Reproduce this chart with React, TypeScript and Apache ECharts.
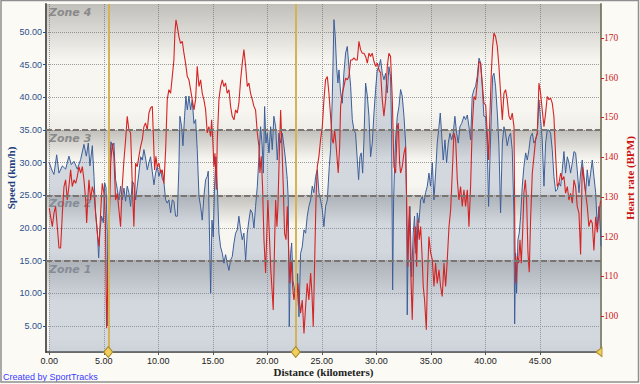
import { useEffect, useRef } from "react";
import * as echarts from "echarts";

// ---- axis ticks ----
const X_TICKS = [0, 5, 10, 15, 20, 25, 30, 35, 40, 45];
const SPEED_TICKS = [5, 10, 15, 20, 25, 30, 35, 40, 45, 50];
const HR_TICKS = [100, 110, 120, 130, 140, 150, 160, 170];

const X_RANGE = [-0.3, 50.6];
const SPEED_RANGE = [1.0, 54.3];
const HR_RANGE = [90.9, 178.6];

// ---- zones (speed, km/h) ----
const ZONE_NAMES = ["Zone 1", "Zone 2", "Zone 3", "Zone 4"];
const ZONE_BOUNDS = [1.0, 15, 25, 35, 54.3];

// ---- laps (km) ----
const LAPS = [5.41, 22.6];
const TRACK_END = 50.6;

// ---- speed (km, km/h) ----
const SPEED: [number, number][] = [
  [0.0, 30.0], [0.28, 28.7], [0.43, 28.2], [0.68, 31.2], [0.89, 28.4], [1.2, 29.5], [1.5, 29.0], [1.8, 31.0],
  [2.02, 29.7], [2.27, 30.2], [2.57, 29.0], [2.88, 30.5], [3.18, 32.8], [3.4, 31.0], [3.58, 33.0], [3.73, 29.5],
  [3.95, 32.6], [4.1, 27.9], [4.25, 22.3], [4.4, 19.7], [4.53, 15.4], [4.65, 19.7], [4.8, 21.8], [4.96, 20.8],
  [5.08, 26.9], [5.2, 26.2], [5.32, 19.2], [5.38, 5.0], [5.45, 12.0], [5.55, 30.0], [5.65, 33.2], [5.8, 32.5],
  [5.93, 33.0], [6.08, 27.4], [6.24, 25.9], [6.39, 24.3], [6.54, 26.4], [6.69, 24.3], [6.85, 26.1], [7.0, 24.1],
  [7.15, 26.4], [7.3, 25.4], [7.46, 23.3], [7.61, 27.2], [7.76, 26.7], [7.92, 24.3], [8.07, 26.4], [8.22, 28.4],
  [8.38, 30.9], [8.53, 30.4], [8.68, 32.0], [8.83, 30.7], [8.99, 28.9], [9.14, 30.0], [9.29, 30.9], [9.45, 28.6],
  [9.6, 26.6], [9.75, 28.4], [9.9, 29.4], [10.06, 27.9], [10.21, 28.9], [10.36, 27.6], [10.52, 26.9], [10.67, 24.3],
  [10.82, 23.8], [10.97, 24.3], [11.13, 22.3], [11.28, 24.3], [11.43, 24.1], [11.59, 21.8], [11.74, 21.8], [11.89, 29.4],
  [11.98, 37.1], [12.14, 35.5], [12.26, 32.6], [12.41, 37.1], [12.53, 40.2], [12.66, 38.1], [12.81, 40.2], [12.96, 38.1],
  [13.11, 39.6], [13.27, 36.0], [13.42, 36.6], [13.57, 32.0], [13.73, 24.8], [13.88, 23.3], [14.03, 21.2], [14.18, 24.8],
  [14.34, 27.4], [14.49, 27.9], [14.58, 28.7], [14.67, 21.2], [14.8, 10.0], [14.92, 21.2], [15.04, 18.6], [15.16, 26.4],
  [15.28, 30.9], [15.41, 26.4], [15.56, 19.2], [15.71, 17.1], [15.87, 16.1], [16.02, 14.6], [16.17, 15.9], [16.32, 14.6],
  [16.48, 13.5], [16.63, 15.1], [16.78, 15.6], [16.94, 17.7], [17.09, 19.2], [17.24, 19.7], [17.39, 21.8], [17.55, 19.7],
  [17.7, 18.2], [17.85, 19.2], [18.01, 15.1], [18.16, 19.2], [18.31, 21.2], [18.46, 22.8], [18.62, 22.3], [18.77, 20.0],
  [18.92, 23.3], [19.08, 26.4], [19.23, 30.9], [19.38, 35.5], [19.53, 32.6], [19.63, 28.4], [19.75, 38.6], [19.87, 33.0],
  [19.99, 34.5], [20.15, 31.5], [20.3, 35.5], [20.45, 32.0], [20.6, 37.1], [20.76, 35.5], [20.91, 30.4], [21.06, 34.5],
  [21.22, 33.0], [21.37, 34.5], [21.52, 32.6], [21.67, 30.4], [21.83, 27.4], [21.92, 24.3], [22.01, 4.9], [22.13, 16.1],
  [22.23, 17.7], [22.35, 12.0], [22.5, 10.5], [22.65, 9.0], [22.78, 13.0], [22.9, 6.4], [23.05, 16.1], [23.2, 17.1],
  [23.36, 19.7], [23.51, 19.2], [23.66, 21.8], [23.81, 23.3], [23.97, 24.3], [24.12, 26.4], [24.27, 25.4], [24.43, 27.9],
  [24.58, 28.9], [24.73, 25.4], [24.88, 24.3], [25.04, 22.8], [25.19, 20.2], [25.34, 23.3], [25.5, 24.3], [25.59, 26.9],
  [25.68, 29.4], [25.8, 32.0], [25.95, 39.6], [26.11, 51.9], [26.23, 49.3], [26.35, 44.7], [26.47, 42.2], [26.57, 44.2],
  [26.72, 40.7], [26.87, 39.1], [27.02, 43.7], [27.18, 46.8], [27.33, 47.8], [27.48, 44.7], [27.64, 41.7], [27.79, 36.6],
  [27.94, 35.0], [28.09, 34.5], [28.25, 30.4], [28.37, 27.4], [28.49, 30.9], [28.61, 31.5], [28.74, 28.4], [28.86, 33.5],
  [29.01, 42.2], [29.17, 40.2], [29.32, 37.1], [29.47, 30.9], [29.62, 33.0], [29.78, 37.6], [29.93, 41.2], [30.08, 44.2],
  [30.23, 44.7], [30.39, 45.8], [30.54, 43.7], [30.69, 42.7], [30.85, 43.7], [31.0, 40.7], [31.15, 44.7], [31.3, 43.2],
  [31.4, 34.5], [31.49, 10.5], [31.58, 24.3], [31.67, 29.4], [31.76, 33.5], [31.92, 37.1], [32.07, 38.6], [32.22, 41.2],
  [32.37, 40.2], [32.53, 37.1], [32.68, 33.0], [32.77, 24.3], [32.83, 6.7], [32.92, 19.2], [33.08, 23.3], [33.23, 12.5],
  [33.38, 19.2], [33.5, 21.8], [33.63, 16.1], [33.75, 22.3], [33.9, 20.8], [34.06, 24.3], [34.21, 24.8], [34.36, 23.8],
  [34.51, 25.4], [34.67, 26.4], [34.82, 28.4], [34.97, 26.4], [35.13, 30.0], [35.28, 24.3], [35.43, 28.4], [35.58, 33.0],
  [35.74, 35.5], [35.86, 37.6], [35.98, 34.5], [36.13, 30.4], [36.29, 33.5], [36.44, 30.0], [36.59, 33.0], [36.75, 34.5],
  [36.9, 33.5], [37.05, 34.5], [37.2, 37.1], [37.36, 34.5], [37.51, 33.0], [37.66, 35.5], [37.82, 36.0], [38.03, 37.1],
  [38.18, 36.6], [38.34, 37.3], [38.49, 35.5], [38.64, 33.5], [38.79, 40.2], [38.95, 41.2], [39.1, 41.7], [39.25, 43.2],
  [39.41, 46.0], [39.56, 45.3], [39.71, 41.7], [39.86, 37.1], [40.02, 37.1], [40.17, 32.6], [40.29, 23.3], [40.41, 30.4],
  [40.54, 37.1], [40.66, 43.2], [40.78, 43.7], [40.93, 41.7], [41.09, 37.6], [41.24, 32.6], [41.39, 22.3], [41.55, 33.0],
  [41.7, 35.5], [41.85, 34.5], [42.0, 32.6], [42.16, 34.0], [42.31, 34.5], [42.46, 32.0], [42.62, 21.8], [42.68, 5.3],
  [42.77, 16.1], [42.86, 10.0], [42.98, 18.2], [43.1, 19.2], [43.23, 21.8], [43.38, 26.4], [43.53, 29.4], [43.69, 31.5],
  [43.84, 30.4], [43.99, 32.0], [44.14, 34.0], [44.3, 34.5], [44.45, 33.0], [44.6, 33.5], [44.76, 34.5], [44.91, 39.6],
  [45.06, 36.6], [45.21, 33.5], [45.37, 26.4], [45.52, 33.0], [45.67, 35.0], [45.83, 35.0], [45.98, 34.5], [46.13, 32.0],
  [46.28, 27.9], [46.44, 25.6], [46.59, 25.9], [46.74, 26.9], [46.9, 26.4], [47.05, 28.9], [47.2, 31.7], [47.35, 28.4],
  [47.51, 30.9], [47.66, 30.0], [47.81, 28.4], [47.97, 30.0], [48.12, 31.7], [48.27, 31.5], [48.42, 28.9], [48.58, 25.4],
  [48.73, 28.4], [48.88, 30.4], [49.04, 27.9], [49.19, 25.4], [49.34, 28.9], [49.49, 26.4], [49.65, 28.4], [49.8, 30.4],
  [49.95, 27.9], [50.11, 25.4], [50.26, 20.2], [50.41, 23.3], [50.56, 19.2], [50.6, 17.2],
];

// ---- heart rate (km, BPM) ----
const HEART_RATE: [number, number][] = [
  [0.0, 127.1], [0.28, 122.5], [0.43, 125.9], [0.58, 127.6], [0.75, 122.0], [0.89, 117.1], [1.04, 117.1], [1.2, 125.9],
  [1.35, 132.6], [1.5, 134.3], [1.65, 129.2], [1.8, 132.6], [1.96, 136.8], [2.11, 132.6], [2.27, 134.3], [2.42, 133.4],
  [2.57, 135.1], [2.72, 137.6], [2.88, 136.0], [3.03, 137.6], [3.18, 134.3], [3.34, 129.2], [3.43, 123.4], [3.55, 130.1],
  [3.64, 134.3], [3.79, 129.2], [3.95, 132.6], [4.1, 130.9], [4.25, 125.9], [4.41, 120.8], [4.56, 117.5], [4.71, 125.9],
  [4.86, 133.4], [5.02, 130.9], [5.14, 125.0], [5.26, 96.9], [5.41, 112.4], [5.63, 138.5], [5.78, 143.5], [5.93, 140.2],
  [6.08, 129.2], [6.24, 130.9], [6.39, 126.7], [6.54, 122.5], [6.69, 132.6], [6.85, 139.3], [7.0, 144.4], [7.15, 150.3],
  [7.3, 146.9], [7.46, 146.1], [7.61, 133.4], [7.76, 122.5], [7.92, 138.5], [8.07, 137.6], [8.22, 140.2], [8.38, 142.7],
  [8.53, 144.4], [8.68, 147.7], [8.83, 148.6], [8.99, 146.9], [9.14, 151.1], [9.29, 152.4], [9.45, 152.8], [9.54, 146.1],
  [9.66, 136.8], [9.78, 140.2], [9.9, 137.6], [10.06, 138.5], [10.21, 136.0], [10.36, 136.8], [10.52, 133.4], [10.67, 141.8],
  [10.82, 154.5], [10.97, 157.0], [11.13, 156.1], [11.28, 160.3], [11.43, 164.5], [11.52, 171.3], [11.62, 174.6], [11.74, 172.9],
  [11.89, 170.4], [12.04, 168.7], [12.2, 169.2], [12.35, 166.2], [12.5, 163.7], [12.66, 160.3], [12.81, 159.5], [12.96, 157.0],
  [13.11, 154.5], [13.27, 151.9], [13.42, 154.5], [13.57, 162.9], [13.73, 157.8], [13.88, 159.5], [14.03, 156.1], [14.18, 154.5],
  [14.34, 151.9], [14.49, 146.1], [14.64, 147.7], [14.8, 145.2], [14.89, 149.4], [15.01, 143.5], [15.1, 137.6], [15.19, 141.0],
  [15.32, 131.8], [15.41, 144.4], [15.56, 154.5], [15.71, 157.8], [15.87, 159.5], [16.02, 157.8], [16.17, 158.7], [16.32, 156.1],
  [16.48, 157.0], [16.63, 152.8], [16.78, 150.3], [16.94, 149.4], [17.09, 151.9], [17.24, 151.1], [17.39, 153.6], [17.55, 159.5],
  [17.7, 163.7], [17.85, 167.1], [18.01, 162.9], [18.16, 157.8], [18.31, 158.7], [18.46, 156.1], [18.62, 154.5], [18.77, 152.8],
  [18.92, 151.9], [19.08, 146.1], [19.23, 142.7], [19.32, 136.0], [19.44, 140.2], [19.56, 132.6], [19.69, 119.2], [19.84, 110.8],
  [19.93, 119.2], [20.05, 129.2], [20.18, 120.8], [20.3, 112.4], [20.45, 105.7], [20.54, 101.5], [20.67, 119.2], [20.76, 129.2],
  [20.88, 122.5], [20.97, 127.6], [21.09, 140.2], [21.22, 151.9], [21.34, 142.7], [21.46, 132.6], [21.58, 120.8], [21.71, 119.2],
  [21.83, 127.6], [21.95, 116.6], [22.07, 108.2], [22.19, 114.1], [22.32, 107.4], [22.44, 104.0], [22.56, 106.6], [22.68, 102.4],
  [22.8, 108.2], [22.93, 104.0], [23.05, 100.7], [23.2, 104.0], [23.36, 95.6], [23.51, 102.4], [23.66, 108.2], [23.81, 104.0],
  [23.97, 110.8], [24.09, 105.7], [24.21, 97.3], [24.33, 112.4], [24.46, 129.2], [24.58, 137.6], [24.73, 140.2], [24.88, 144.4],
  [25.04, 147.7], [25.19, 154.5], [25.34, 159.5], [25.5, 160.3], [25.65, 156.1], [25.8, 150.3], [25.95, 144.4], [26.05, 143.5],
  [26.17, 146.9], [26.29, 143.5], [26.41, 139.3], [26.5, 136.0], [26.63, 142.7], [26.72, 152.8], [26.87, 156.1], [27.02, 157.8],
  [27.18, 159.9], [27.33, 159.5], [27.48, 160.3], [27.64, 164.5], [27.79, 164.5], [27.94, 165.0], [28.09, 164.5], [28.25, 164.5],
  [28.4, 169.2], [28.55, 167.1], [28.71, 166.2], [28.86, 166.2], [29.01, 165.4], [29.17, 163.7], [29.32, 166.2], [29.47, 165.4],
  [29.62, 166.2], [29.78, 164.1], [29.93, 162.9], [30.08, 163.7], [30.23, 162.0], [30.39, 161.2], [30.54, 154.5], [30.69, 150.3],
  [30.85, 154.5], [31.0, 162.9], [31.15, 166.2], [31.3, 165.4], [31.46, 154.5], [31.61, 137.6], [31.76, 136.0], [31.92, 147.7],
  [32.01, 148.6], [32.13, 138.5], [32.22, 136.0], [32.37, 137.6], [32.53, 141.0], [32.68, 142.7], [32.77, 129.2], [32.89, 112.4],
  [33.02, 127.6], [33.14, 112.4], [33.29, 99.0], [33.44, 116.6], [33.57, 122.5], [33.69, 112.4], [33.81, 124.2], [33.93, 119.2],
  [34.06, 122.5], [34.18, 115.8], [34.3, 107.4], [34.42, 104.0], [34.58, 96.5], [34.67, 108.2], [34.82, 120.0], [34.97, 116.0],
  [35.13, 114.1], [35.28, 107.4], [35.43, 113.3], [35.58, 108.2], [35.74, 111.6], [35.89, 107.4], [36.04, 104.9], [36.2, 113.3],
  [36.35, 107.4], [36.5, 114.1], [36.66, 122.5], [36.81, 126.7], [36.96, 136.0], [37.11, 146.1], [37.27, 144.4], [37.42, 134.3],
  [37.57, 129.2], [37.72, 132.6], [37.88, 127.6], [38.03, 131.8], [38.18, 127.6], [38.34, 131.8], [38.49, 122.5], [38.64, 132.6],
  [38.79, 147.7], [38.95, 155.3], [39.1, 154.5], [39.25, 158.7], [39.41, 164.1], [39.56, 163.7], [39.71, 158.7], [39.86, 153.6],
  [40.02, 153.2], [40.17, 146.1], [40.29, 139.3], [40.41, 150.3], [40.54, 161.2], [40.66, 167.9], [40.78, 171.3], [40.93, 170.4],
  [41.09, 167.9], [41.24, 162.9], [41.39, 156.1], [41.55, 149.4], [41.7, 156.1], [41.85, 157.0], [42.0, 154.5], [42.16, 150.3],
  [42.31, 149.4], [42.46, 151.1], [42.62, 147.7], [42.71, 117.5], [42.8, 108.2], [42.92, 115.0], [43.04, 113.3], [43.17, 119.2],
  [43.29, 113.3], [43.41, 120.8], [43.53, 130.9], [43.66, 134.3], [43.78, 129.2], [43.9, 116.0], [44.02, 111.0], [44.14, 124.2],
  [44.3, 136.0], [44.45, 140.2], [44.6, 144.4], [44.76, 146.1], [44.91, 158.7], [45.06, 156.1], [45.21, 151.9], [45.37, 147.7],
  [45.52, 151.1], [45.67, 155.3], [45.83, 154.5], [45.98, 154.9], [46.13, 153.6], [46.28, 150.3], [46.44, 140.2], [46.59, 132.6],
  [46.74, 133.4], [46.9, 136.0], [47.05, 134.3], [47.2, 135.1], [47.35, 130.9], [47.51, 132.6], [47.66, 129.2], [47.81, 130.9],
  [47.97, 128.4], [48.12, 134.3], [48.27, 132.6], [48.42, 127.6], [48.58, 125.9], [48.73, 115.5], [48.88, 137.6], [49.04, 134.3],
  [49.19, 130.9], [49.34, 127.6], [49.49, 122.5], [49.65, 124.2], [49.8, 123.4], [49.95, 116.5], [50.11, 125.0], [50.26, 121.0],
  [50.41, 126.0], [50.56, 129.0],
];

const zoneGradient = {
  type: "linear",
  x: 0,
  y: 0,
  x2: 0,
  y2: 1,
  colorStops: [
    { offset: 0, color: "rgba(105,102,98,0.40)" },
    { offset: 0.45, color: "rgba(105,102,98,0.03)" },
    { offset: 0.85, color: "rgba(105,102,98,0.03)" },
    { offset: 1, color: "rgba(105,102,98,0.09)" },
  ],
};

const fmt2 = (v: number) => v.toFixed(2);

export default function App() {
  const ref = useRef<HTMLDivElement>(null);
  useEffect(() => {
    const chart = echarts.init(ref.current!, null, { renderer: "svg" });
    const zoneAreas = ZONE_NAMES.map((name, i) => [
      { name, yAxis: ZONE_BOUNDS[i + 1], itemStyle: { color: zoneGradient } },
      { yAxis: ZONE_BOUNDS[i] },
    ]);
    const zoneLabelAreas = ZONE_NAMES.map((name, i) => [
      { name, yAxis: ZONE_BOUNDS[i + 1], itemStyle: { color: "rgba(0,0,0,0)" } },
      { yAxis: ZONE_BOUNDS[i] },
    ]);
    const option = {
      animation: false,
      backgroundColor: "#fbfaf5",
      grid: { left: 46, right: 39, top: 4, bottom: 32, containLabel: false, outerBoundsMode: "none" },
      xAxis: {
        type: "value",
        min: X_RANGE[0],
        max: X_RANGE[1],
        axisLine: { show: true, onZero: false, lineStyle: { color: "#3a3a3a", width: 1.5 } },
        axisTick: { show: true, customValues: X_TICKS, length: 3, lineStyle: { color: "#555" } },
        axisLabel: {
          customValues: X_TICKS,
          formatter: fmt2,
          color: "#222",
          fontSize: 9,
          fontFamily: "Liberation Sans",
          margin: 4,
        },
        splitLine: { show: true, lineStyle: { color: "#9c9c9c", type: "dotted", width: 1 } },
        name: "Distance (kilometers)",
        nameLocation: "middle",
        nameGap: 14,
        nameMoveOverlap: false,
        nameTextStyle: { fontFamily: "Liberation Serif", fontWeight: "bold", fontSize: 11, color: "#222" },
      },
      yAxis: [
        {
          type: "value",
          position: "left",
          min: SPEED_RANGE[0],
          max: SPEED_RANGE[1],
          axisLine: { show: true, onZero: false, lineStyle: { color: "#5c5c5c", width: 2 } },
          axisTick: { show: true, customValues: SPEED_TICKS, length: 3, lineStyle: { color: "#2d4f8a" } },
          axisLabel: {
            customValues: SPEED_TICKS,
            formatter: fmt2,
            color: "#2d4f8a",
            fontSize: 9,
            fontFamily: "Liberation Sans",
            margin: 4,
          },
          splitLine: { show: true, lineStyle: { color: "#9c9c9c", type: "dotted", width: 1 } },
          name: "Speed (km/h)",
          nameLocation: "middle",
          nameGap: 30,
          nameMoveOverlap: false,
          nameTextStyle: { fontFamily: "Liberation Serif", fontWeight: "bold", fontSize: 11, color: "#1f3f80" },
        },
        {
          type: "value",
          position: "right",
          min: HR_RANGE[0],
          max: HR_RANGE[1],
          axisLine: { show: true, onZero: false, lineStyle: { color: "#8a8872", width: 2 } },
          axisTick: { show: true, customValues: HR_TICKS, length: 3, lineStyle: { color: "#cc2222" } },
          axisLabel: {
            customValues: HR_TICKS,
            color: "#cc2222",
            fontSize: 9.5,
            fontFamily: "Liberation Serif",
            margin: 3,
          },
          splitLine: { show: false },
          name: "Heart rate (BPM)",
          nameLocation: "middle",
          nameGap: 23,
          nameMoveOverlap: false,
          nameTextStyle: { fontFamily: "Liberation Serif", fontWeight: "bold", fontSize: 11, color: "#cc1111" },
        },
      ],
      series: [
        {
          type: "line",
          name: "zones",
          yAxisIndex: 0,
          data: [],
          z: 1,
          silent: true,
          markArea: {
            silent: true,
            label: { show: false },
            data: zoneAreas,
          },
        },
        {
          type: "line",
          name: "Speed",
          yAxisIndex: 0,
          data: SPEED,
          showSymbol: false,
          symbol: "none",
          z: 3,
          lineStyle: { color: "#3d5f98", width: 1 },
          areaStyle: { color: "rgba(126,145,181,0.42)", origin: "start" },
        },
        {
          type: "line",
          name: "zoneLabels",
          yAxisIndex: 0,
          data: [],
          z: 3.5,
          silent: true,
          markArea: {
            silent: true,
            label: {
              show: true,
              position: "insideTopLeft",
              distance: 3,
              color: "#8a8a8a",
              fontSize: 11,
              fontStyle: "italic",
              fontWeight: "bold",
              fontFamily: "DejaVu Sans",
            },
            data: zoneLabelAreas,
          },
        },
        {
          type: "line",
          name: "Heart rate",
          yAxisIndex: 1,
          data: HEART_RATE,
          showSymbol: false,
          symbol: "none",
          z: 4,
          lineStyle: { color: "#d42424", width: 1.1 },
        },
        {
          type: "line",
          name: "zoneLines",
          yAxisIndex: 0,
          data: [],
          z: 5,
          silent: true,
          markLine: {
            silent: true,
            symbol: "none",
            label: { show: false },
            lineStyle: { color: "#7a7570", width: 2, type: [6, 3] },
            data: ZONE_BOUNDS.slice(1, 4).map((v) => ({ yAxis: v })),
          },
        },
        {
          type: "line",
          name: "laps",
          yAxisIndex: 0,
          data: [],
          z: 6,
          silent: true,
          markLine: {
            silent: true,
            symbol: "none",
            label: { show: false },
            lineStyle: { color: "#d6b257", width: 2, type: "solid" },
            data: LAPS.map((v) => ({ xAxis: v })),
          },
          markPoint: {
            silent: true,
            label: { show: false },
            data: [
              ...LAPS.map((v) => ({
                coord: [v, SPEED_RANGE[0]],
                symbol: "diamond",
                symbolSize: [9, 11],
                itemStyle: { color: "#f2cf5b", borderColor: "#a88a2a", borderWidth: 1 },
              })),
              {
                coord: [TRACK_END, SPEED_RANGE[0]],
                symbol: "triangle",
                symbolRotate: 90,
                symbolSize: [9, 6],
                symbolOffset: [-2, 0],
                itemStyle: { color: "#f2cf5b", borderColor: "#a88a2a", borderWidth: 1 },
              },
            ],
          },
        },
      ],
      graphic: [
        {
          type: "rect",
          silent: true,
          shape: { x: 1, y: 0.5, width: 637.5, height: 381.5 },
          style: { fill: "none", stroke: "#8f8f8f", lineWidth: 1.5 },
          z: 100,
        },
        {
          type: "text",
          left: 3,
          top: 372,
          silent: true,
          style: {
            text: "Created by SportTracks",
            fill: "#3a3aff",
            fontSize: 9,
            fontFamily: "Liberation Sans",
          },
        },
      ],
    };
    chart.setOption(option as any);
    return () => chart.dispose();
  }, []);
  return (
    <div
      ref={ref}
      style={{ position: "fixed", left: 0, top: 0, width: 640, height: 384 }}
    />
  );
}
